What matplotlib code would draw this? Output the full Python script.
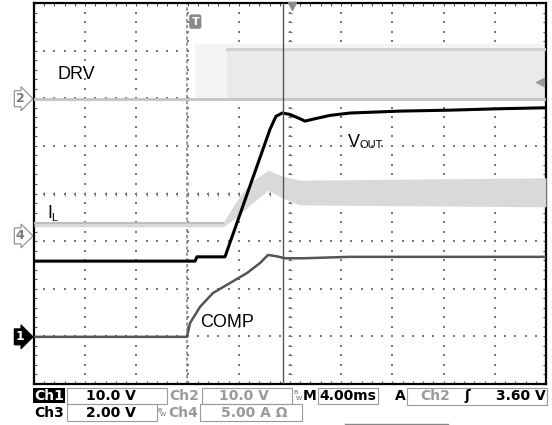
import numpy as np
import matplotlib
matplotlib.use("Agg")
import matplotlib.pyplot as plt
from matplotlib.patches import Rectangle
from matplotlib.transforms import blended_transform_factory

W, H = 552, 425

# screen: 10 x 8 divisions, 4 ms/div, levels in divisions from centre
MS_PER_DIV = 4.0
T_END = 40.0

# VOUT (black)
vout_t = [0.0, 12.58, 12.73, 14.92, 16.48, 18.44, 18.9, 19.4, 20.0, 20.78,
          21.17, 21.95, 23.13, 24.69, 28.59, 32.5, 36.4, 40.0]
vout_v = [-1.42, -1.42, -1.33, -1.33, -0.14, 1.35, 1.62, 1.69, 1.66, 1.57,
          1.52, 1.57, 1.64, 1.69, 1.73, 1.75, 1.78, 1.80]

# COMP (dark grey)
comp_t = [0.0, 11.95, 12.19, 12.97, 13.98, 15.31, 16.64, 17.66, 18.28, 18.98,
          19.61, 21.02, 24.69, 40.0]
comp_v = [-3.01, -3.01, -2.72, -2.38, -2.09, -1.88, -1.67, -1.46, -1.29, -1.32,
          -1.36, -1.36, -1.33, -1.33]

# IL (light grey band)
il_t = [0.0, 14.77, 15.86, 16.88, 18.28, 19.45, 20.78, 40.0]
il_hi = [-0.61, -0.61, -0.14, 0.22, 0.49, 0.36, 0.28, 0.33]
il_lo = [-0.70, -0.70, -0.49, -0.24, 0.07, -0.10, -0.24, -0.28]

# DRV (switching node, light grey)
drv_low = 1.99
drv_high = 3.04
drv_start = 12.6
drv_full = 15.1

# channel ground markers and trigger
ch_marks = [("2", 1.99, False), ("4", -0.89, False), ("1", -3.01, True)]
trig_level = 2.35
trig_time = 11.95
cursor_time = 19.43

# status bar: (text, x centre px, y centre px, colour)
status_row1 = [("Ch1", 49, 396, "white"), ("10.0 V", 111, 396, "black"),
               ("Ch2", 184, 396, "#9a9a9a"), ("10.0 V", 244, 396, "#9a9a9a"),
               ("M", 310, 396, "black"), ("4.00ms", 348, 396, "black"),
               ("A", 400, 396, "black"), ("Ch2", 435, 396, "#9a9a9a"),
               ("ʃ", 467, 396, "black"), ("3.60 V", 521, 396, "black")]
status_row2 = [("Ch3", 49, 413, "black"), ("2.00 V", 111, 413, "black"),
               ("Ch4", 183, 413, "#9a9a9a"), ("5.00 A Ω", 254, 413, "#9a9a9a")]
status_boxes = [(67, 388, 167, 404), (202, 388, 292, 404), (318, 388, 378, 404),
                (407, 388, 547, 405), (67, 404, 157, 421), (200, 404, 302, 421)]


def fx(x):
    return x / W


def fy(y):
    return 1 - y / H


fig = plt.figure(figsize=(W / 100, H / 100), dpi=100)
ax = fig.add_axes([fx(34), fy(384), 512 / W, 381 / H])
ax.set_xlim(0, T_END)
ax.set_ylim(-4, 4)

# graticule dots
gx = np.arange(0, T_END + 0.01, MS_PER_DIV)
gy = np.arange(-4, 4.01, 1.0)
fine_y = np.arange(-4, 4.01, 0.2)
fine_x = np.arange(0, T_END + 0.01, MS_PER_DIV / 5)
vx, vy = np.meshgrid(gx[1:-1], fine_y)
hx, hy = np.meshgrid(fine_x, gy[1:-1])
ax.scatter(vx.ravel(), vy.ravel(), s=1.2, marker="s", color="#777777", linewidths=0, zorder=1)
ax.scatter(hx.ravel(), hy.ravel(), s=1.2, marker="s", color="#777777", linewidths=0, zorder=1)
ax.plot(fine_x, np.zeros_like(fine_x), ls="none", marker="|", ms=3, color="#777777", mew=0.8, zorder=1)
ax.plot(np.full_like(fine_y, 20.0), fine_y, ls="none", marker="_", ms=3, color="#777777", mew=0.8, zorder=1)

# DRV
ax.fill_between([drv_start, T_END], drv_low, drv_high + 0.1, color="#f4f4f4", lw=0, zorder=2)
ax.fill_between([drv_full, T_END], drv_low, drv_high, color="#eaeaea", lw=0, zorder=2)
ax.plot([0, T_END], [drv_low, drv_low], color="#c4c4c4", lw=2, zorder=3)
ax.plot([drv_full, T_END], [drv_high, drv_high], color="#d0d0d0", lw=2, zorder=3)

# IL
ax.fill_between(il_t, il_lo, il_hi, color="#d9d9d9", lw=0, zorder=3)
ax.plot(il_t[:2], il_hi[:2], color="#bdbdbd", lw=1.5, zorder=3)

# COMP and VOUT
ax.plot(comp_t, comp_v, color="#555555", lw=1.8, zorder=4)
ax.plot(vout_t, vout_v, color="black", lw=2.2, zorder=5)

# trigger and cursor lines
ax.axvline(trig_time, color="#888888", lw=1.2, ls=(0, (2, 1.5)), zorder=1)
ax.axvline(cursor_time, color="#555555", lw=1.0, zorder=6)

# trace labels
lab = dict(family="Liberation Sans", color="black", va="baseline", zorder=7)
ax.text(1.80, 2.41, "DRV", fontsize=13, **lab)
ax.text(1.02, -0.51, "I", fontsize=13, **lab)
ax.text(1.36, -0.57, "L", fontsize=8, **lab)
ax.text(24.53, 0.98, "V", fontsize=13, **lab)
ax.text(25.45, 0.96, "OUT", fontsize=8, **lab)
ax.text(12.97, -2.80, "COMP", fontsize=13, **lab)

# markers on the screen edges
ax.text(12.6, 3.61, "T", fontsize=8, fontweight="bold", color="white", ha="center", va="center",
        bbox=dict(boxstyle="round,pad=0.2", fc="#8a8a8a", ec="none"), zorder=7)
ax.plot([20.16], [3.93], marker="v", ms=6, color="#8a8a8a", clip_on=False, zorder=7)
ax.plot([39.5], [trig_level], marker="<", ms=6, color="#999999", clip_on=False, zorder=7)

trans = blended_transform_factory(ax.transAxes, ax.transData)
for name, lvl, solid in ch_marks:
    ax.text(-0.027, lvl, name, transform=trans, fontsize=9, fontweight="bold",
            color="white" if solid else "#7a7a7a", ha="center", va="center", clip_on=False,
            bbox=dict(boxstyle="rarrow,pad=0.12", fc="black" if solid else "white",
                      ec="black" if solid else "#8a8a8a", lw=0.8))

ax.set_xticks(gx)
ax.set_yticks(gy)
ax.set_xticks(fine_x, minor=True)
ax.set_yticks(fine_y, minor=True)
ax.tick_params(which="both", direction="in", length=2.5, width=0.8, color="#555555",
               labelbottom=False, labelleft=False, top=True, right=True)
for side in ["left", "right", "bottom", "top"]:
    ax.spines[side].set_linewidth(1.6)
    ax.spines[side].set_color("black")

# status bar
fig.patches.append(Rectangle((fx(33), fy(403)), 32 / W, 15 / H, transform=fig.transFigure,
                             fc="black", ec="none"))
for x0, y0, x1, y1 in status_boxes:
    fig.patches.append(Rectangle((fx(x0), fy(y1)), (x1 - x0) / W, (y1 - y0) / H,
                                 transform=fig.transFigure, fc="none", ec="#9a9a9a", lw=0.8))
for txt, x, y, col in status_row1 + status_row2:
    fig.text(fx(x), fy(y), txt, color=col, fontsize=10, fontweight="bold",
             family="DejaVu Sans", ha="center", va="center")
for x, y in [(296, 396), (160, 413)]:
    fig.text(fx(x), fy(y - 3), "B", fontsize=4.5, color="#666666", ha="center", va="center")
    fig.text(fx(x + 3), fy(y + 2), "W", fontsize=4.5, color="#666666", ha="center", va="center")
fig.lines.append(plt.Line2D([fx(345), fx(448)], [fy(424), fy(424)], transform=fig.transFigure,
                            color="#888888", lw=1))

fig.savefig("out.png", dpi=100)
